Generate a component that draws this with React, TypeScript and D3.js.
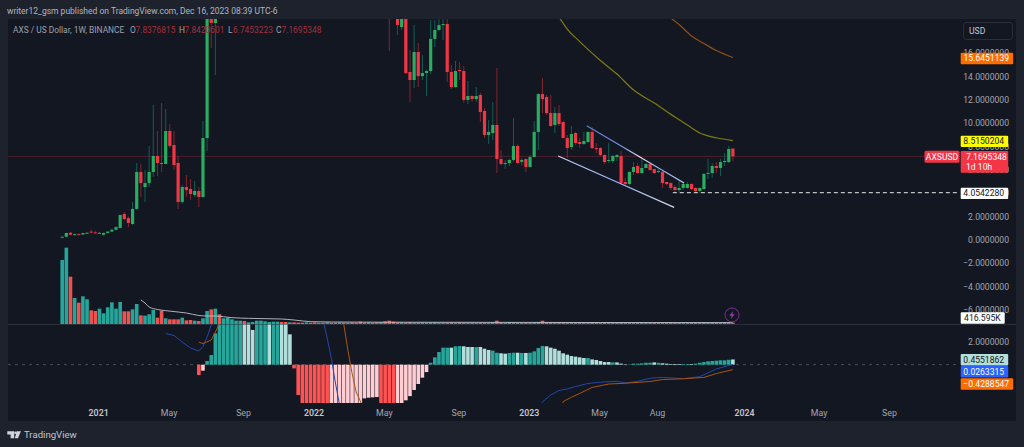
// AXS / USD weekly chart with volume and MACD panes
import * as d3 from 'd3';

const FONT = 'Roboto, sans-serif';

// week 0 is the candle of Nov 2 2020, week 162 the candle of Dec 11 2023
const firstWeek = new Date(2020, 10, 2);
const lastWeek = 162;

// weeks 38-78 and 80 trade above the visible price range, so they have no candle here
const candleWeeks = d3.range(lastWeek + 1).filter((w) => !(w >= 38 && w <= 78) && w !== 80);

const opens = [
	0.2, 0.28, 0.62, 0.42, 0.5, 0.47, 0.6, 0.72, 0.65, 0.6, 0.45, 0.6, 0.72, 0.88, 1.03, 2.23, 1.88, 1.37, 2.66, 5.83,
	4.54, 4.88, 5.83, 7.2, 6.6, 6.51, 9.34, 8.14, 6.6, 3.26, 4.54, 4.37, 3.86, 4.2, 3.69, 8.74, 22, 18.6,
	25,
	19.5, 18.25, 19.5, 14.4, 13.71, 16.11, 14.05, 14.31, 14.48, 17.23, 18, 18.42, 18.51, 14.4, 13.11, 14.57, 14.48, 12, 12.34,
	12.08, 12.43, 11.06, 9, 9.17, 9.86, 6.94, 6.51, 6.6, 6.86, 8.06, 6.7, 6.94, 6.26, 7.11, 9.26, 12.51, 12.25, 10.88, 9.86,
	10.88, 10.11, 8.74, 7.97, 9.17, 8.4, 8.23, 8.4, 9.26, 7.88, 7.88, 7.28, 6.77, 6.77, 7.11, 7.2, 4.97, 4.8, 5.83, 6.34,
	5.74, 6.17, 6.51, 6.08, 5.83, 5.83, 4.97, 4.88, 4.54, 4.28, 4.46, 4.46, 4.8, 4.46, 4.2, 4.37, 5.66, 5.74, 6.34, 6.17,
	6.68, 6.68, 7.8377
];
const highs = [
	0.3, 0.62, 0.68, 0.55, 0.55, 0.62, 0.68, 0.9, 0.8, 0.7, 0.65, 0.75, 0.95, 1.2, 2.2, 2.4, 2.0, 3.26, 6.6, 6.5,
	6.0, 8.06, 11.57, 9.34, 11.74, 11.23, 9.94, 9.34, 7.2, 4.7, 5.57, 5.23, 5.06, 4.54, 10.2, 22, 24, 24,
	30,
	21, 21, 21, 16.28, 18.42, 16.88, 15.85, 14.6, 18.85, 18.85, 19.5, 19.5, 19.5, 15, 15.34, 15.25, 14.91, 13.63, 12.4,
	13.11, 12.6, 11.31, 10.28, 11.83, 14.74, 7.71, 6.86, 6.97, 10.46, 8.2, 7, 7, 7.28, 10.2, 12.6, 13.88, 12.43, 12.43, 11.4,
	11.57, 10.2, 9, 9.77, 9.26, 8.74, 9.26, 9.3, 9.68, 8.31, 7.95, 7.35, 8.31, 7.3, 7.37, 7.63, 5.31, 5.9, 6.68, 6.6,
	6.94, 6.6, 6.6, 6.1, 6.08, 5.91, 5, 4.95, 4.71, 5.06, 4.9, 4.97, 4.85, 4.5, 4.5, 5.74, 6.94, 6.6, 6.68, 6.94,
	7.45, 8.06, 7.8421
];
const lows = [
	0.17, 0.25, 0.42, 0.38, 0.42, 0.45, 0.52, 0.58, 0.55, 0.5, 0.35, 0.55, 0.68, 0.82, 1.0, 1.7, 1.11, 1.3, 2.6, 3.69,
	3.26, 4.54, 5.4, 5.48, 5.83, 6.51, 7.88, 6.0, 2.66, 3.1, 3.69, 3.43, 3.69, 2.83, 3.6, 7.63, 16.45, 14.14,
	16.2,
	17.57, 18, 14.2, 11.83, 13.03, 13.11, 13.71, 12.34, 14.22, 16.54, 17.9, 17.14, 13.54, 12.94, 13.03, 13.71, 11.74, 11.66, 11.83,
	11.83, 10.11, 8.74, 8.23, 8.57, 5.74, 6.4, 6.08, 6.3, 6.7, 6.5, 6.4, 5.83, 6.17, 7.1, 7.71, 10.88, 10.71, 9.68, 9.17,
	9.77, 8.7, 7.03, 7.71, 8.14, 7.88, 8.14, 8.3, 7.8, 7.45, 7.2, 6.51, 6.6, 6.6, 6.77, 4.8, 4.71, 4.7, 5.57, 5.66,
	5.66, 6.17, 5.91, 5.66, 5.74, 4.46, 4.7, 4.28, 4.11, 4.03, 4.3, 4.4, 4.3, 4.11, 4.05, 4.3, 5.23, 5.31, 5.74, 5.48,
	6.34, 6.6, 6.7453
];
const closes = [
	0.28, 0.6, 0.45, 0.5, 0.47, 0.6, 0.62, 0.65, 0.62, 0.62, 0.6, 0.72, 0.88, 1.1, 2.14, 1.8, 1.46, 2.66, 5.83, 4.88,
	4.88, 5.83, 7.2, 6.6, 6.51, 9.34, 8.06, 6.43, 3.26, 4.54, 4.28, 3.94, 4.2, 3.69, 8.74, 20.5, 18.6, 21,
	22,
	18.43, 19.5, 14.31, 13.71, 16.11, 14.05, 14.31, 14.48, 17.23, 18, 18.42, 18.51, 14.4, 13.11, 14.48, 14.48, 12, 12.34, 12.08,
	12.34, 10.97, 9, 9.26, 9.86, 6.94, 6.51, 6.6, 6.86, 8.06, 6.6, 6.86, 6.26, 7.11, 9.26, 12.51, 12.08, 10.88, 9.77, 10.88,
	9.94, 8.74, 7.88, 9.08, 8.31, 8.23, 8.48, 9.26, 7.88, 7.8, 7.28, 6.68, 6.86, 7.2, 7.28, 4.88, 4.8, 5.83, 6.26, 5.74,
	6.17, 6.51, 6, 5.74, 5.91, 4.88, 4.8, 4.46, 4.28, 4.46, 4.8, 4.8, 4.37, 4.2, 4.46, 5.66, 5.74, 6.34, 6.17, 6.68,
	6.77, 7.8, 7.1695
];

// moving averages on the price pane, [week, price]
const ma50Weeks = [120, 122, 125, 130, 134, 138, 143, 148, 151, 154, 158, 162];
const ma50Values = [19.1, 18.08, 17, 15.38, 14.22, 12.85, 11.74, 10.54, 9.85, 9.17, 8.76, 8.515];
const ma100Weeks = [147, 149, 152, 155, 158, 162];
const ma100Values = [19.02, 18.47, 17.48, 16.84, 16.24, 15.6451];

// falling channel drawn on the chart
const channelTopWeeks = [126.7, 150.2];
const channelTopPrices = [9.79, 4.88];
const channelBottomWeeks = [119.8, 147.8];
const channelBottomPrices = [7.2, 2.8];

const lastPrice = 7.1695348;
const supportPrice = 4.054228;
const priceTicks = [16, 14, 12, 10, 8, 6, 4, 2, 0, -2, -4, -6];

// volume in millions, one per week
const volumes = [
	19.2, 22.9, 14.2, 7.8, 6.4, 8.3, 7.4, 4.1, 3.9, 4.6, 3.2, 5.0, 6.5, 4.6, 6.6, 3.8, 3.8, 4.4, 6.0, 2.6,
	2.5, 2.9, 4.2, 1.9, 4.0, 1.7, 1.4, 1.4, 1.4, 1.9, 1.1, 1.2, 1.0, 0.9, 1.7, 3.9, 4.4, 4.6, 2.9, 1.7,
	1.9, 1.4, 1.0, 1.0, 0.9, 0.5, 0.6, 1.0, 1.0, 0.8, 0.6, 0.7, 0.7, 0.6, 0.6, 0.5, 0.5, 0.4, 0.4, 0.5,
	0.4, 0.5, 0.4, 0.4, 0.5, 0.4, 0.4, 0.5, 0.4, 0.4, 0.5, 0.4, 0.7, 0.4, 0.5, 0.4, 0.5, 0.6, 0.8, 1.0,
	0.7, 0.5, 0.5, 0.4, 0.5, 0.4, 0.4, 0.5, 0.4, 0.5, 0.5, 0.4, 0.4, 0.4, 0.5, 0.4, 0.5, 0.4, 0.4, 0.4,
	0.4, 0.4, 0.4, 0.4, 0.5, 1.0, 0.5, 0.4, 0.6, 0.5, 0.4, 0.4, 0.4, 0.4, 0.5, 0.6, 1.0, 0.6, 0.5, 0.5,
	0.5, 0.5, 0.4, 0.5, 0.4, 0.4, 0.4, 0.4, 0.5, 0.4, 0.4, 0.4, 0.4, 0.4, 0.4, 0.5, 0.4, 0.4, 0.4, 0.4,
	0.4, 0.4, 0.4, 0.4, 0.4, 0.4, 0.4, 0.4, 0.4, 0.4, 0.4, 0.4, 0.4, 0.4, 0.4, 0.5, 0.4, 0.4, 0.4, 0.4,
	0.4, 0.4, 0.417
];
// down weeks among the ones that have no candle
const volumeDownWeeks = [38, 44, 53, 54, 56, 57, 58, 60, 61, 63, 65, 66, 68, 70, 71, 72, 73, 75, 76, 78, 80];

const volumeMaWeeks = [19, 20, 21, 23, 25, 28, 30, 33, 35, 37, 41, 45, 49, 53, 56, 60, 65, 75, 100, 130, 162];
const volumeMaValues = [7.2, 6.3, 5.1, 4.35, 4.0, 3.6, 3.3, 2.55, 2.4, 2.4, 1.9, 1.7, 1.6, 1.5, 1.2, 0.7, 0.6, 0.55, 0.5, 0.45, 0.42];

// MACD histogram from week 33 on
const histStart = 33;
const histValues = [
	-0.9, -0.52, 0.32, 0.84, 2.73, 4.5, 6, 7, 8, 8.5, 8, 7.5, 6, 3.02, 6, 7, 7, 6, 5, 5.5, 4.5, 3.8, 2.64,
	-0.32, -2.64, -4, -5, -6, -7, -8, -8, -8, -7.5, -7, -6.5, -6, -5.5, -5, -4.5, -4, -2.93, -2.87, -2.84, -2.81, -4, -5, -6, -6,
	-5, -4,
	-3.1, -2.73, -2.2, -1.68, -1.13, -0.64,
	0.17, 0.64, 1.1, 1.48, 1.48, 1.48, 1.6, 1.62, 1.6, 1.54, 1.54, 1.54, 1.54, 1.39, 1.28, 1.22, 1.04, 0.99, 0.96, 1.02,
	1.04, 1.04, 1.02, 1.02, 1.04, 1.16, 1.45, 1.62, 1.6, 1.48, 1.39, 1.22, 0.99, 0.87, 0.75, 0.7, 0.64, 0.58, 0.58, 0.46,
	0.41, 0.32, 0.23, 0.23, 0.2, 0.2, 0.09, -0.03, 0.03, 0.09, 0.09, 0.12, 0.17, 0.17, 0.2, 0.17, 0.12, 0.09, 0.06, 0.06,
	0.06, 0.06, 0.06, 0.06, 0.09, 0.17, 0.23, 0.29, 0.32, 0.35, 0.38, 0.38, 0.43, 0.4552
];
// weeks drawn in the pale shade
const histPaleWeeks = [
	34, 44, 45, 46, 50, 53, 54, 55, 65, 66, 67, 68, 69, 70, 71, 72, 73, 74, 75, 76, 81, 82, 83, 84, 85, 86, 87, 88, 94, 97,
	98, 99, 101, 102, 103, 106, 107, 110, 112, 117, 118, 119, 120, 121, 122, 123, 124, 125, 126, 128, 129, 130, 131, 132,
	134, 135, 136, 143, 145, 146, 147, 148, 149, 152, 162
];

const macdWeeks = [25, 27, 29, 31, 33, 34, 35, 36, 37, 63, 64, 65, 66, 67, 68, 115, 116, 118, 120, 122, 124, 127, 130, 134, 136, 139, 142, 145, 150, 154, 158, 162];
const macdValues = [2.71, 2.54, 1.97, 1.45, 1.19, 1.58, 2.41, 3.45, 4.6, 3.9, 2.32, 0.58, -1.59, -3.5, -5.2, -3.94, -3.24, -2.63, -2.24, -2.11, -1.9, -1.63, -1.52, -1.44, -1.59, -1.44, -1.18, -1.1, -1.22, -1.04, -0.37, 0.0263];
const signalWeeks = [33, 34, 36, 37, 38, 39, 68, 69, 70, 71, 72, 73, 120, 121, 123, 125, 128, 132, 137, 142, 145, 150, 155, 158, 162];
const signalValues = [1.97, 1.83, 2.15, 2.84, 3.63, 4.6, 3.54, 1.28, -0.72, -2.37, -3.16, -4.1, -4.4, -3.2, -2.83, -2.5, -1.98, -1.68, -1.59, -1.46, -1.29, -1.22, -1.11, -0.77, -0.4289];

const timeLabels = ['2021', 'May', 'Sep', '2022', 'May', 'Sep', '2023', 'May', 'Aug', '2024', 'May', 'Sep'];
const timeTicks = ['2021-01-04', '2021-05-03', '2021-09-06', '2022-01-03', '2022-05-02', '2022-09-05', '2023-01-02', '2023-05-01', '2023-08-07', '2024-01-01', '2024-05-06', '2024-09-02'];

const legendParts = [
	{ x: 13, text: 'AXS / US Dollar, 1W, BINANCE', red: false },
	{ x: 130, text: 'O', red: false },
	{ x: 135.5, text: '7.8376815', red: true },
	{ x: 179, text: 'H', red: false },
	{ x: 184.5, text: '7.8420601', red: true },
	{ x: 228, text: 'L', red: false },
	{ x: 233, text: '6.7453223', red: true },
	{ x: 276, text: 'C', red: false },
	{ x: 281.5, text: '7.1695348', red: true }
];

const tags = [
	{ y: 52.7, h: 11.6, w: 52.5, fill: '#ff6d00', color: '#ffffff', text: '15.6451139' },
	{ y: 135.7, h: 11.4, w: 47.5, fill: '#ffff00', color: '#131722', text: '8.5150204' },
	{ y: 187.7, h: 11.4, w: 47.5, fill: '#ffffff', color: '#131722', text: '4.0542280' },
	{ y: 312.3, h: 11.4, w: 44, fill: '#ffffff', color: '#131722', text: '416.595K' },
	{ y: 354, h: 11.4, w: 47.5, fill: '#b2dfdb', color: '#131722', text: '0.4551862' },
	{ y: 366, h: 11.4, w: 47.5, fill: '#2962ff', color: '#ffffff', text: '0.0263315' },
	{ y: 378.3, h: 11.4, w: 52.5, fill: '#ff6d00', color: '#ffffff', text: '\u22120.4288547' }
];

const COLORS = {
	page: '#1e222d',
	pane: '#131722',
	grid: '#2a2e39',
	up: '#27ae60',
	upWick: '#0f5f52',
	down: '#f23645',
	downWick: '#85242f',
	volUp: '#26a69a',
	volDown: '#ef5350'
};

function App() {
	const weekDate = (w: number) => d3.timeDay.offset(firstWeek, w * 7);
	const x = d3
		.scaleTime()
		.domain([weekDate(0), weekDate(lastWeek)])
		.range([62.2, 732.9]);
	const xw = (w: number) => x(firstWeek.getTime() + w * 7 * 864e5);
	const y = d3.scaleLinear().domain([0, 16]).range([240, 53.3]);
	const yVol = d3.scaleLinear().domain([0, 30]).range([324, 224]);
	const yMacd = d3.scaleLinear().domain([0, 2]).range([364.7, 341.7]);

	const priceLine = d3
		.line<number>()
		.x((_, i) => xw(ma50Weeks[i]))
		.y((d) => y(d))
		.curve(d3.curveMonotoneX);
	const longLine = d3
		.line<number>()
		.x((_, i) => xw(ma100Weeks[i]))
		.y((d) => y(d))
		.curve(d3.curveMonotoneX);
	const volLine = d3
		.line<number>()
		.x((_, i) => xw(volumeMaWeeks[i]))
		.y((d) => yVol(d))
		.curve(d3.curveMonotoneX);
	const macdLine = d3
		.line<number>()
		.x((_, i) => xw(macdWeeks[i]))
		.y((d) => yMacd(d));
	const signalLine = d3
		.line<number>()
		.x((_, i) => xw(signalWeeks[i]))
		.y((d) => yMacd(d));

	const closeByWeek = new Map(candleWeeks.map((w, i) => [w, i]));
	const volumeIsDown = (w: number) => {
		const i = closeByWeek.get(w);
		if (i === undefined) return volumeDownWeeks.includes(w);
		return closes[i] < opens[i];
	};

	const histColor = (v: number, w: number) => {
		const pale = histPaleWeeks.includes(w);
		if (v >= 0) return pale ? '#b2dfdb' : '#26a69a';
		return pale ? '#ffcdd2' : '#ff5252';
	};

	return (
		<svg
			width={1024}
			height={447}
			style={{ position: 'absolute', left: 0, top: 0, display: 'block' }}
			fontFamily={FONT}
		>
			<defs>
				<clipPath id='main-pane'>
					<rect x={8} y={19} width={1008} height={305} />
				</clipPath>
				<clipPath id='macd-pane'>
					<rect x={8} y={324.5} width={1008} height={78.5} />
				</clipPath>
				<linearGradient id='channel-top' x1='0' x2='1' y1='0' y2='0'>
					<stop offset='0' stopColor='#5b7fd6' />
					<stop offset='0.35' stopColor='#6f8fdd' />
					<stop offset='0.55' stopColor='#e8ebf2' />
					<stop offset='0.75' stopColor='#8ea6e6' />
					<stop offset='1' stopColor='#c8d3f0' />
				</linearGradient>
				<linearGradient id='channel-bottom' x1='0' x2='1' y1='0' y2='0'>
					<stop offset='0' stopColor='#c8d3f0' />
					<stop offset='0.5' stopColor='#8ea6e6' />
					<stop offset='1' stopColor='#d8def0' />
				</linearGradient>
			</defs>

			<rect width={1024} height={447} fill={COLORS.page} />
			<rect x={8} y={19} width={1008} height={402} fill={COLORS.pane} />
			<line x1={8} x2={1016} y1={324.5} y2={324.5} stroke={COLORS.grid} />

			<text x={7} y={14} fontSize={8.5} fill='#b2b5be'>
				writer12_gsm published on TradingView.com, Dec 16, 2023 08:39 UTC-6
			</text>

			<line x1={8} x2={960} y1={y(lastPrice)} y2={y(lastPrice)} stroke='#f23645' strokeOpacity={0.4} strokeWidth={0.7} />
			<line x1={8} x2={960} y1={yMacd(0)} y2={yMacd(0)} stroke='#4a4e59' strokeDasharray='3 4' />

			<g clipPath='url(#main-pane)'>
				{volumes.map((v, w) => (
					<rect
						key={w}
						x={xw(w) - 1.8}
						width={3.6}
						y={yVol(v)}
						height={yVol(0) - yVol(v)}
						fill={volumeIsDown(w) ? COLORS.volDown : COLORS.volUp}
					/>
				))}
				<path d={volLine(volumeMaValues) ?? ''} fill='none' stroke='#bfc2ca' strokeWidth={0.9} />

				{candleWeeks.map((w, i) => {
					const up = closes[i] >= opens[i];
					const top = y(Math.max(opens[i], closes[i]));
					const bottom = y(Math.min(opens[i], closes[i]));
					return (
						<g key={w}>
							<line
								x1={xw(w)}
								x2={xw(w)}
								y1={y(highs[i])}
								y2={y(lows[i])}
								stroke={up ? COLORS.upWick : COLORS.downWick}
							/>
							<rect
								x={xw(w) - 1.6}
								width={3.2}
								y={top}
								height={Math.max(bottom - top, 1)}
								fill={up ? COLORS.up : COLORS.down}
							/>
						</g>
					);
				})}

				<path d={priceLine(ma50Values) ?? ''} fill='none' stroke='#7f7a12' strokeWidth={1.2} />
				<path d={longLine(ma100Values) ?? ''} fill='none' stroke='#8f4f16' strokeWidth={1.2} />

				<line
					x1={xw(channelTopWeeks[0])}
					x2={xw(channelTopWeeks[1])}
					y1={y(channelTopPrices[0])}
					y2={y(channelTopPrices[1])}
					stroke='url(#channel-top)'
					strokeWidth={1.2}
				/>
				<line
					x1={xw(channelBottomWeeks[0])}
					x2={xw(channelBottomWeeks[1])}
					y1={y(channelBottomPrices[0])}
					y2={y(channelBottomPrices[1])}
					stroke='url(#channel-bottom)'
					strokeWidth={1.2}
				/>
				<line
					x1={xw(lastWeek - 14.5)}
					x2={958}
					y1={y(supportPrice)}
					y2={y(supportPrice)}
					stroke='#e8e8e8'
					strokeDasharray='4 3'
				/>
			</g>

			<g clipPath='url(#macd-pane)'>
				{histValues.map((v, i) => {
					const w = histStart + i;
					return (
						<rect
							key={w}
							x={xw(w) - 1.8}
							width={3.6}
							y={Math.min(yMacd(v), yMacd(0))}
							height={Math.abs(yMacd(v) - yMacd(0))}
							fill={histColor(v, w)}
						/>
					);
				})}
				<path d={macdLine(macdValues) ?? ''} fill='none' stroke='#2447a8' strokeWidth={1} />
				<path d={signalLine(signalValues) ?? ''} fill='none' stroke='#a8560f' strokeWidth={1} />
			</g>

			{legendParts.map((p) => (
				<text key={p.x} x={p.x} y={33} fontSize={8.4} fill={p.red ? '#a52f3a' : '#9ea1aa'}>
					{p.text}
				</text>
			))}

			{priceTicks.map((t) => (
				<text key={t} x={1009} y={y(t) + 3} textAnchor='end' fontSize={8.6} fill='#a3a6af'>
					{(t < 0 ? '\u2212' : '') + d3.format('.7f')(Math.abs(t))}
				</text>
			))}
			<text x={1009} y={yMacd(2) + 3} textAnchor='end' fontSize={8.6} fill='#a3a6af'>
				2.0000000
			</text>

			<rect x={963.5} y={22.5} width={49} height={17} rx={3} fill={COLORS.pane} stroke={COLORS.grid} />
			<text x={969} y={34} fontSize={8.6} fill='#c6c8cf'>
				USD
			</text>

			<rect x={924.5} y={150.8} width={35} height={12} rx={1.5} fill={COLORS.down} />
			<text x={942} y={160} textAnchor='middle' fontSize={8.6} fill='#ffffff'>
				AXSUSD
			</text>
			<rect x={960.7} y={151} width={47.5} height={21.8} rx={1} fill={COLORS.down} />
			<text x={966} y={160} fontSize={8.6} fill='#ffffff'>
				7.1695348
			</text>
			<text x={966} y={170} fontSize={8.6} fill='#ffffff'>
				1d 10h
			</text>

			{tags.map((t) => (
				<g key={t.text}>
					<rect x={960.7} y={t.y} width={t.w} height={t.h} rx={1} fill={t.fill} />
					<text x={960.7 + t.w - 4} y={t.y + 8.6} textAnchor='end' fontSize={8.6} fill={t.color}>
						{t.text}
					</text>
				</g>
			))}

			{timeTicks.map((d, i) => {
				const isYear = timeLabels[i].length === 4;
				return (
					<text
						key={d}
						x={x(new Date(d + 'T00:00:00')) - 0.8}
						y={415.5}
						textAnchor='middle'
						fontSize={8.8}
						fontWeight={isYear ? 600 : 400}
						fill={isYear ? '#c3c5cc' : '#a3a6af'}
					>
						{timeLabels[i]}
					</text>
				);
			})}

			<circle cx={732} cy={315} r={7} fill={COLORS.pane} stroke='#7b2f8e' strokeWidth={1} />
			<path d='M733.2 310.8 L729.4 315.8 L731.7 315.8 L730.8 319.2 L734.6 314.2 L732.3 314.2 Z' fill='#8d3fa3' />

			<path d='M7.3 431.3 H14.2 V438.3 H10.6 V434.4 H7.3 Z M16.6 431.3 H20.9 L18 438.3 H14.9 Z' fill='#d1d4dc' />
			<circle cx={15.4} cy={432.8} r={1.2} fill='#d1d4dc' />
			<text x={24} y={438.4} fontSize={9.6} fill='#c3c5cc'>
				TradingView
			</text>
		</svg>
	);
}

export default App;
